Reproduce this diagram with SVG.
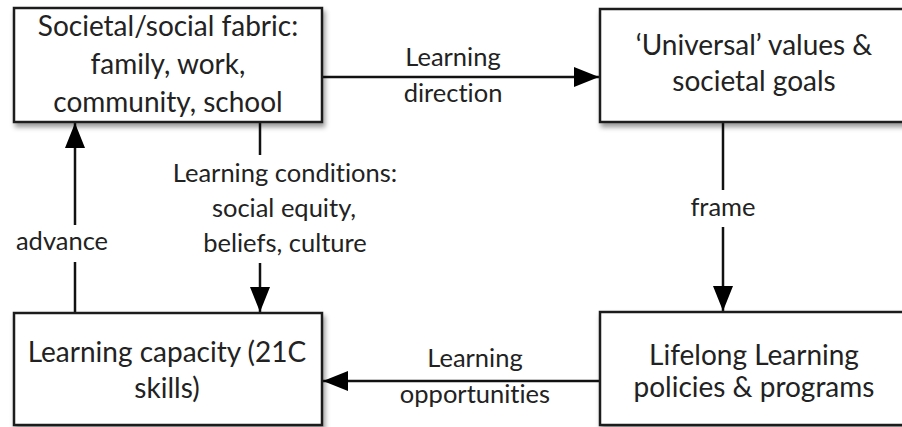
<svg xmlns="http://www.w3.org/2000/svg" width="902" height="427" viewBox="0 0 902 427">
<style>
.box{fill:#fff;stroke:#1e1e1e;stroke-width:2.5;filter:url(#sh)}
.t{font-family:Lato,"Open Sans","Noto Sans",sans-serif;font-size:28px;fill:#222;text-anchor:middle;font-variant-ligatures:none}
.l{font-family:Lato,"Open Sans","Noto Sans",sans-serif;font-size:25.5px;fill:#222;text-anchor:middle;font-variant-ligatures:none}
.c{stroke:#111;stroke-width:2.5;fill:none}
</style>
<defs>
<filter id="sh" x="-10%" y="-10%" width="130%" height="140%">
<feDropShadow dx="2" dy="4" stdDeviation="2.5" flood-color="#000" flood-opacity="0.4"/>
</filter>
<marker id="ah" markerWidth="25" markerHeight="20" refX="25" refY="10" orient="auto" markerUnits="userSpaceOnUse">
<path d="M0,0 L25,10 L0,20 Z" fill="#000"/>
</marker>
</defs>
<g id="connectors">
<line class="c" x1="322" y1="77" x2="599" y2="77" marker-end="url(#ah)"/>
<line class="c" x1="723" y1="122" x2="723" y2="190"/>
<line class="c" x1="723" y1="227" x2="723" y2="311" marker-end="url(#ah)"/>
<line class="c" x1="600" y1="381" x2="323" y2="381" marker-end="url(#ah)"/>
<line class="c" x1="75" y1="313" x2="75" y2="262"/>
<line class="c" x1="75" y1="225" x2="75" y2="123" marker-end="url(#ah)"/>
<line class="c" x1="260" y1="122" x2="260" y2="155"/>
<line class="c" x1="260" y1="263" x2="260" y2="312" marker-end="url(#ah)"/>
<text class="l" x="453" y="66">Learning</text>
<text class="l" x="453" y="102">direction</text>
<text class="l" x="723" y="216">frame</text>
<text class="l" x="475" y="367">Learning</text>
<text class="l" x="475" y="403">opportunities</text>
<text class="l" x="62" y="250">advance</text>
<text class="l" x="285" y="182">Learning conditions:</text>
<text class="l" x="284" y="217">social equity,</text>
<text class="l" x="285" y="252">beliefs, culture</text>
</g>
<g id="node-societal">
<rect class="box" x="14" y="8" width="308" height="114"/>
<text class="t" x="168" y="36">Societal/social fabric:</text>
<text class="t" x="168" y="74">family, work,</text>
<text class="t" x="168" y="112">community, school</text>
</g>
<g id="node-universal">
<rect class="box" x="600" y="9" width="320" height="113"/>
<text class="t" x="754" y="55">‘Universal’ values &amp;</text>
<text class="t" x="754" y="91">societal goals</text>
</g>
<g id="node-capacity">
<rect class="box" x="14" y="313" width="308" height="112"/>
<text class="t" x="167" y="362">Learning capacity (21C</text>
<text class="t" x="167" y="398">skills)</text>
</g>
<g id="node-lifelong">
<rect class="box" x="600" y="312" width="320" height="113"/>
<text class="t" x="754" y="365">Lifelong Learning</text>
<text class="t" x="754" y="397">policies &amp; programs</text>
</g>
</svg>
